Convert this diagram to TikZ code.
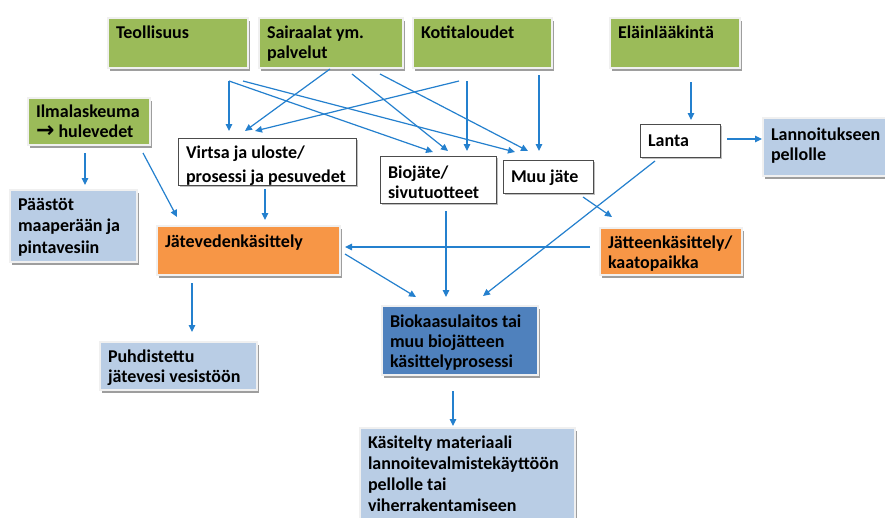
\documentclass[tikz,border=0pt]{standalone}
\usepackage{fontspec}
\setmainfont{Carlito}
\newfontfamily\djv{DejaVu Sans}
\usetikzlibrary{arrows.meta,calc,shadows}
\definecolor{grn}{HTML}{9BBB59}
\definecolor{org}{HTML}{F79646}
\definecolor{dblue}{HTML}{4F81BD}
\definecolor{lblue}{HTML}{B9CDE5}
\definecolor{arrc}{RGB}{36,128,206}
\definecolor{frame}{HTML}{F0F0F0}
% [baselineskip]{width}{height}{first baseline}{text}
\newcommand\bxt[5][20]{\parbox[c][#3pt][t]{\dimexpr#2pt-16pt\relax}{\fontsize{18}{#1}\selectfont\bfseries\raggedright\hyphenpenalty=10000 \exhyphenpenalty=10000 \rule{0pt}{#4pt}#5}}
\tikzset{
  base/.style={anchor=north west, inner xsep=8pt, inner ysep=0pt, outer sep=0pt, text=black},
  cbox/.style={base, draw=frame, line width=2.5pt,
    drop shadow={shadow xshift=2pt, shadow yshift=-3pt, fill=black!38, opacity=1}},
  gbox/.style={cbox, fill=grn},
  obox/.style={cbox, fill=org},
  lbbox/.style={cbox, fill=lblue},
  dbbox/.style={cbox, fill=dblue},
  wbox/.style={base, draw=black!70, line width=1pt, fill=white,
    drop shadow={shadow xshift=1.5pt, shadow yshift=-1.5pt, fill=black!25, opacity=1}},
  arr/.style={draw=arrc, line width=1.2pt, -{Triangle[length=7pt,width=6.5pt]}}
}
\begin{document}
\begin{tikzpicture}[x=1pt,y=-1pt]
\fill[white] (0,0) rectangle (885,517);
\useasboundingbox (0,0) rectangle (885,517);
\clip (0,0) rectangle (885,517);
% top row
\node[gbox] (teo) at (108,18) {\bxt{140}{50}{20}{Teollisuus}};
\node[gbox] (sai) at (259,18) {\bxt{144}{50}{20}{Sairaalat ym.\\palvelut}};
\node[gbox] (kot) at (413,18) {\bxt{139}{50}{20}{Kotitaloudet}};
\node[gbox] (ela) at (610,18) {\bxt{130}{50}{20}{Eläinlääkintä}};
% left column
\node[gbox] (ilm) at (28,98) {\bxt{122}{47}{19}{Ilmalaskeuma\\{\djv\fontsize{22}{20}\selectfont\raisebox{-0.5pt}{→}} hulevedet}};
\node[lbbox] (paa) at (10,190) {\bxt[21.5]{127}{72}{20}{Päästöt\\maaperään ja\\pintavesiin}};
% middle row
\node[wbox] (vir) at (178,138) {\bxt[24]{178}{47}{20}{Virtsa ja uloste/\\prosessi ja pesuvedet}};
\node[wbox] (bio) at (380,156) {\bxt{116}{47}{22}{Biojäte/\\sivutuotteet}};
\node[wbox] (muu) at (503,160) {\bxt{90}{33}{22}{Muu jäte}};
\node[wbox] (lan) at (640,124) {\bxt{80}{33}{22}{Lanta}};
\node[lbbox] (lnt) at (763,118) {\bxt{135}{58}{22}{Lannoitukseen\\pellolle}};
% treatment
\node[obox] (jv) at (157,226) {\bxt{183}{49}{21}{Jätevedenkäsittely}};
\node[obox] (jk) at (600,228) {\bxt{142}{47}{20}{Jätteenkäsittely/\\kaatopaikka}};
\node[dbbox] (bk) at (382,306) {\bxt{156}{69}{21}{Biokaasulaitos tai\\muu biojätteen\\käsittelyprosessi}};
\node[lbbox] (puh) at (100,342) {\bxt{157}{48}{20}{Puhdistettu\\jätevesi vesistöön}};
\node[lbbox] (kas) at (360,428) {\bxt[21]{215}{100}{20}{Käsitelty materiaali\\lannoitevalmistekäyttöön\\pellolle tai\\viherrakentamiseen}};
% connectors
\draw[arr] ($(teo.south west)+(121,13)$) -- ($(vir.north west)+(51,-7)$);
\draw[arr] ($(teo.south west)+(121,13)$) -- ($(bio.north west)+(53,-4)$);
\draw[arr] ($(teo.south west)+(135,13)$) -- ($(muu.north west)+(12,-8)$);
\draw[arr] ($(sai.south west)+(71,1)$) -- ($(vir.north west)+(67,-7)$);
\draw[arr] ($(sai.south west)+(93,6)$) -- ($(bio.north west)+(68,-5)$);
\draw[arr] ($(sai.south west)+(121,6)$) -- ($(muu.north west)+(25,-9)$);
\draw[arr] ($(kot.south west)+(46,13)$) -- ($(vir.north west)+(77,-7)$);
\draw[arr] ($(kot.south west)+(54,13)$) -- ($(bio.north west)+(87,-5)$);
\draw[arr] ($(kot.south west)+(126,7)$) -- ($(muu.north west)+(36,-9)$);
\draw[arr] ($(ela.south west)+(81,14)$) -- ($(lan.north west)+(51,-4)$);
\draw[arr] ($(lan.north west)+(87,15)$) -- ($(lnt.north west)+(-1,21)$);
\draw[arr] ($(lan.south west)+(15,4)$) -- ($(bk.north west)+(101,-10)$);
\draw[arr] ($(muu.south west)+(80,4)$) -- ($(jk.north west)+(12,-11)$);
\draw[arr] ($(jk.north west)+(-10,19)$) -- ($(jv.north east)+(5,21)$);
\draw[arr] ($(jv.north east)+(5,28)$) -- ($(bk.north west)+(34,-9)$);
\draw[arr] ($(bio.south west)+(66,8)$) -- ($(bk.north west)+(64,-9)$);
\draw[arr] ($(vir.south west)+(87,4)$) -- ($(jv.north west)+(108,-6)$);
\draw[arr] ($(ilm.south west)+(115,8)$) -- ($(jv.north west)+(20,-9)$);
\draw[arr] ($(ilm.south west)+(57,8)$) -- ($(paa.north west)+(75,-5)$);
\draw[arr] ($(jv.south west)+(35,8)$) -- ($(puh.north west)+(92,-10)$);
\draw[arr] ($(bk.south west)+(71,16)$) -- ($(kas.north west)+(93,-2)$);
\end{tikzpicture}
\end{document}
